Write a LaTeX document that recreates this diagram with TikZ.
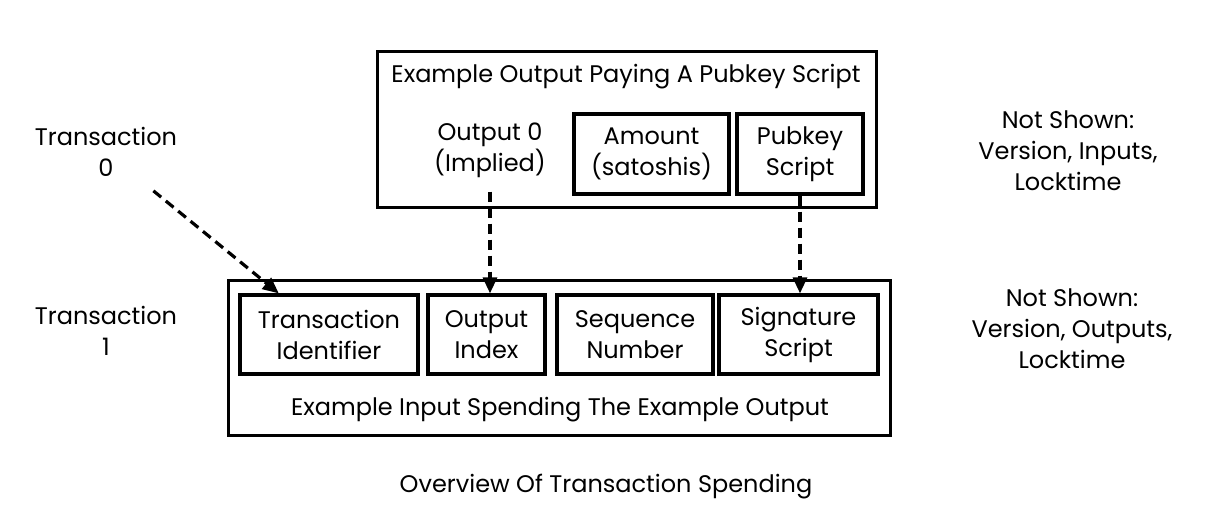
\documentclass[tikz,border=0pt]{standalone}
\usepackage{fontspec}
\setmainfont{Poppins}
\usepackage{tikz}
\usetikzlibrary{arrows.meta,positioning}
\definecolor{txink}{RGB}{0,0,0}
\definecolor{txpaper}{RGB}{255,255,255}
\tikzset{
  txlabel/.style={text=txink, align=center, inner sep=0pt,
    font=\fontsize{24}{31}\selectfont},
  txcluster/.style={draw=txink, line width=3pt, inner sep=0pt},
  txcell/.style={txlabel, draw=txink, line width=3.2pt},
  txspend/.style={-{Triangle[length=16pt,width=14pt]}, line width=3.2pt,
    dash pattern=on 10pt off 6pt, txink},
}

\begin{document}
\begin{tikzpicture}[x=1pt, y=-1pt]
  \useasboundingbox[fill=txpaper] (0,0) rectangle (1230,516);
  % output side (transaction 0)
  \node[txcluster, minimum width=499pt, minimum height=155pt] (outbox) at (626.5,129.5) {};
  \node[txlabel] (outtitle) at (626,77) {Example Output Paying A Pubkey Script};
  \node[txlabel, inner sep=14pt] (implied) at (490,150) {Output 0\\(Implied)};
  \node[txcell, minimum width=155pt, minimum height=80pt] (amount) at (651.5,154) {Amount\\(satoshis)};
  \node[txcell, minimum width=126pt, minimum height=80pt] (pubkey) at (800,154) {Pubkey\\Script};
  % input side (transaction 1)
  \node[txcluster, minimum width=662pt, minimum height=155pt] (inbox) at (559,357.5) {};
  \node[txcell, minimum width=178pt, minimum height=79pt] (txid) at (329,334.5) {Transaction\\Identifier};
  \node[txcell, minimum width=117pt, minimum height=79pt] (outidx) at (486.5,334.5) {Output\\Index};
  \node[txcell, minimum width=156pt, minimum height=79pt] (seqnum) at (635,334.5) {Sequence\\Number};
  \node[txcell, minimum width=159pt, minimum height=79pt] (sigscript) at (798.5,334.5) {Signature\\Script};
  \node[txlabel] (intitle) at (560,410) {Example Input Spending The Example Output};
  % side labels
  \node[txlabel, inner sep=14pt] (tx0) at (106,152) {Transaction\\0};
  \node[txlabel] (tx1) at (106,331) {Transaction\\1};
  \node[txlabel] (hidden0) at (1068,151) {Not Shown:\\Version, Inputs,\\Locktime};
  \node[txlabel] (hidden1) at (1072,329) {Not Shown:\\Version, Outputs,\\Locktime};
  \node[txlabel] (caption) at (606,487) {Overview Of Transaction Spending};
  % spends
  \draw[txspend] (tx0) -- (txid);
  \draw[txspend] (implied.south) -- (implied.south |- outidx.north);
  \draw[txspend] (pubkey.south) -- (pubkey.south |- sigscript.north);
\end{tikzpicture}
\end{document}
